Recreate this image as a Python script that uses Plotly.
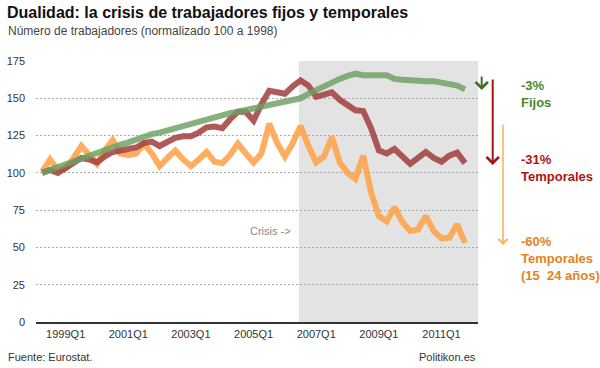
import plotly.graph_objects as go

quarters = [f"{y}Q{q}" for y in range(1998, 2012) for q in range(1, 5)][1:]  # 1998Q2 .. 2011Q4

fijos = [100, 102, 104, 106, 108, 110, 112, 114, 115.5, 117, 119, 120.5, 122.5, 124.5,
         126, 127, 128.5, 130, 132, 133.5, 135, 136.5, 138, 139, 140, 141, 142, 143,
         144, 146, 147, 147.5, 148, 150, 153, 155.5, 159, 161, 163, 165, 166.5, 165.5,
         165, 165.5, 165.5, 163, 162.5, 162, 162, 161.5, 161.5, 160, 159.5, 158.5, 156]

temporales = [100, 102, 100, 103, 106, 110, 109, 107, 111, 114, 115, 115.5, 117, 120,
              121, 118, 121, 123.5, 124.5, 124.5, 127, 130.5, 131, 130, 136, 141, 141, 135,
              146, 155, 154, 153, 158, 162, 158.5, 151, 152.5, 154, 149, 145, 142, 141.5,
              130, 115, 113, 116, 111, 106, 110, 114, 110, 107.5, 111.5, 113.5, 106.5]

jovenes = [101, 109, 102, 103, 110, 118, 112, 106, 115, 122, 113, 112, 113, 119.5,
           113, 104.5, 110, 115, 109, 104.5, 109, 114, 107.5, 106.5, 112, 119.5, 113, 107,
           113, 133, 120, 111, 120, 131.5, 118, 107, 111, 124, 107, 100, 96, 111.5,
           87, 71, 67.5, 77, 67, 61, 62, 71, 61, 56, 56.5, 65.5, 53]

tick_labels = ["1999Q1", "2001Q1", "2003Q1", "2005Q1", "2007Q1", "2009Q1", "2011Q1"]
y_ticks = [0, 25, 50, 75, 100, 125, 150, 175]

FONT = "Liberation Sans, Arial, Helvetica, sans-serif"

fig = go.Figure()
fig.add_trace(go.Scatter(x=quarters, y=jovenes, mode="lines",
                         line=dict(color="rgb(255,165,78)", width=6), opacity=0.9,
                         name="Temporales (15-24 años)"))
fig.add_trace(go.Scatter(x=quarters, y=temporales, mode="lines",
                         line=dict(color="rgb(162,62,62)", width=6), opacity=0.85,
                         name="Temporales"))
fig.add_trace(go.Scatter(x=quarters, y=fijos, mode="lines",
                         line=dict(color="rgb(108,160,100)", width=6), opacity=0.82,
                         name="Fijos"))

fig.add_shape(type="rect", xref="x", yref="y", x0=32.8, x1=55.66, y0=0, y1=175,
              fillcolor="#e3e3e3", line_width=0, layer="below")

anns = []
anns.append(dict(text="Número de trabajadores (normalizado 100 a 1998)", xref="paper", yref="paper",
                 x=-0.0679, y=(322 - 31) / 261, xanchor="left", yanchor="middle", showarrow=False,
                 font=dict(size=12, color="#444", family=FONT)))
anns.append(dict(text="Fuente: Eurostat.", xref="paper", yref="paper",
                 x=-0.0679, y=(322 - 357) / 261, xanchor="left", yanchor="middle", showarrow=False,
                 font=dict(size=11, color="#333", family=FONT)))
anns.append(dict(text="Politikon.es", xref="paper", yref="paper",
                 x=1.0, y=(322 - 357) / 261, xanchor="right", yanchor="middle", showarrow=False,
                 font=dict(size=11, color="#333", family=FONT)))
anns.append(dict(text="Crisis ->", xref="x", yref="y", x=32.0, y=61,
                 xanchor="right", yanchor="middle", showarrow=False,
                 font=dict(size=11, color="#888", family=FONT)))

def px_x(p):
    return (p - 36) / 442

def px_y(p):
    return (322 - p) / 261

# arrows
for xp, y_head, y_tail, col, w in [(481.7, 90, 75, "rgb(60,110,35)", 2),
                                   (492.7, 165, 78, "rgb(160,20,20)", 2),
                                   (503.0, 245, 123, "rgb(255,175,80)", 1.5)]:
    anns.append(dict(text="", xref="paper", yref="paper", x=px_x(xp), y=px_y(y_head),
                     ax=0, ay=-(y_head - y_tail), showarrow=True, arrowhead=4, arrowsize=1.2,
                     arrowwidth=w, arrowcolor=col, standoff=0, startstandoff=0))

for txt, yc, col in [("-3%<br>Fijos", 93.5, "rgb(75,135,45)"),
                     ("-31%<br>Temporales", 168.3, "rgb(175,20,20)"),
                     ("-60%<br>Temporales<br>(15 \u00a024 años)", 258.3, "rgb(230,130,30)")]:
    anns.append(dict(text=f"<b>{txt}</b>", xref="paper", yref="paper", x=px_x(519), y=px_y(yc),
                     xanchor="left", yanchor="middle", align="left", showarrow=False,
                     font=dict(size=13, color=col, family=FONT)))

fig.update_layout(
    width=600, height=368,
    margin=dict(l=36, r=122, t=61, b=46, autoexpand=False),
    paper_bgcolor="white", plot_bgcolor="rgba(0,0,0,0)",
    showlegend=False,
    font=dict(family=FONT, color="#333", size=11),
    title=dict(text="<b>Dualidad: la crisis de trabajadores fijos y temporales</b>",
               x=7 / 600, y=1 - 12 / 368, xanchor="left", yanchor="middle",
               font=dict(size=16, color="#111", family=FONT)),
    annotations=anns,
)
fig.update_xaxes(type="category", categoryorder="array", categoryarray=quarters,
                 range=[-0.79, 55.66], tickvals=tick_labels, ticktext=tick_labels,
                 showgrid=False, showline=True, linecolor="#333", linewidth=1.5,
                 ticks="", ticklabelstandoff=1, tickfont=dict(size=11, color="#333"),
                 automargin=False)
fig.update_yaxes(range=[0, 175], tickvals=y_ticks, showgrid=True, gridcolor="#aaa",
                 griddash="2px,2px", gridwidth=1, zeroline=False, showline=False,
                 ticks="", ticklabelstandoff=10, tickfont=dict(size=11, color="#333"),
                 automargin=False)

fig.write_html("out.html", config={"displayModeBar": False},
               post_script="document.body.style.margin='0';")
